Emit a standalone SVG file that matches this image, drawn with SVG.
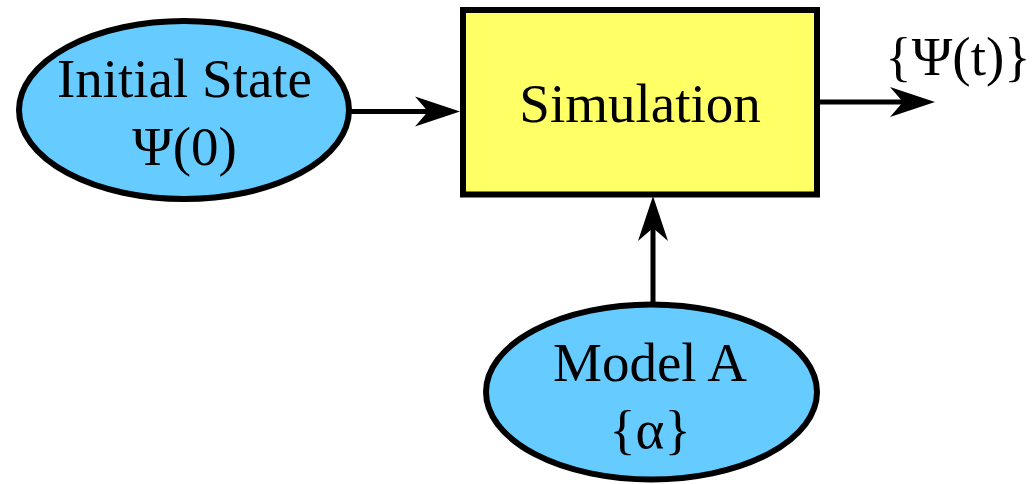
<svg xmlns="http://www.w3.org/2000/svg" width="1032" height="484" viewBox="0 0 1032 484">
<style>
.n{fill:#66CCFF;stroke:#000;stroke-width:6}
.b{fill:#FFFF66;stroke:#000;stroke-width:6}
.t{font-family:"Liberation Serif","Times New Roman",serif;font-size:55px;fill:#000;text-anchor:middle}
.c{stroke:#000;stroke-width:5;fill:none}
.h{fill:#000;stroke:none}
</style>
<defs>
<path id="ah" class="h" d="M0,0 L-45,-15 L-32,0 L-45,15 Z"/>
</defs>
<g id="connectors">
<line class="c" x1="350" y1="111.5" x2="430" y2="111.5"/>
<use href="#ah" transform="translate(460,111.5)"/>
<line class="c" x1="818" y1="102" x2="905" y2="102"/>
<use href="#ah" transform="translate(935,102)"/>
<line class="c" x1="653" y1="305" x2="653" y2="226"/>
<use href="#ah" transform="translate(653,196) rotate(-90)"/>
</g>
<g id="initial">
<ellipse class="n" cx="184" cy="110" rx="165" ry="89"/>
<text class="t" x="184.5" y="97">Initial State</text>
<text class="t" x="184.5" y="165">Ψ(0)</text>
</g>
<g id="simulation">
<rect class="b" x="463" y="10" width="354" height="184.5"/>
<text class="t" x="640" y="122">Simulation</text>
</g>
<g id="model">
<ellipse class="n" cx="651.5" cy="392" rx="165.5" ry="87.5"/>
<text class="t" x="650" y="381">Model A</text>
<text class="t" x="650" y="448">{α}</text>
</g>
<g id="output">
<text class="t" x="958" y="75">{Ψ(t)}</text>
</g>
</svg>
